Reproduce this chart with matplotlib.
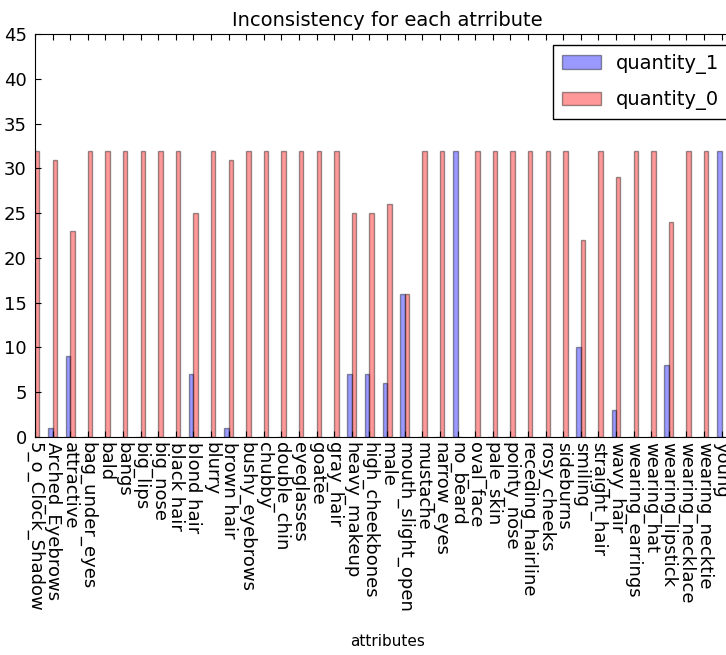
import numpy as np
import matplotlib
matplotlib.use('Agg')
import matplotlib.pyplot as plt

# %%
attributes = ['5_o_Clock_Shadow', 'Arched_Eyebrows', 'attractive', 'bag_under_eyes', 'bald',
              'bangs', 'big_lips', 'big_nose', 'black hair', 'blond hair', 'blurry', 'brown hair',
              'bushy_eyebrows', 'chubby', 'double_chin', 'eyeglasses', 'goatee', 'gray_hair',
              'heavy_makeup', 'high_cheekbones', 'male', 'mouth_slight_open', 'mustache',
              'narrow_eyes', 'no_beard', 'oval_face', 'pale_skin', 'pointy_nose',
              'receding_hairline', 'rosy_cheeks', 'sideburns', 'smiling', 'straight_hair',
              'wavy_hair', 'wearing_earrings', 'wearing_hat', 'wearing_lipstick',
              'wearing_necklace', 'wearing_necktie', 'young']
quantity_1 = [0, 1, 9, 0, 0, 0, 0, 0, 0, 7, 0, 1, 0, 0, 0, 0, 0, 0, 7, 7,
              6, 16, 0, 0, 32, 0, 0, 0, 0, 0, 0, 10, 0, 3, 0, 0, 8, 0, 0, 32]
quantity_0 = [32, 31, 23, 32, 32, 32, 32, 32, 32, 25, 32, 31, 32, 32, 32, 32, 32, 32, 25, 25,
              26, 16, 32, 32, 0, 32, 32, 32, 32, 32, 32, 22, 32, 29, 32, 32, 24, 32, 32, 0]

# %%
plt.rcParams['xtick.direction'] = 'in'
plt.rcParams['ytick.direction'] = 'in'
plt.rcParams['xtick.top'] = True
plt.rcParams['ytick.right'] = True

fig = plt.figure(figsize=(7.26, 6.55), dpi=100)
# the right edge of the axes runs a little past the picture, as in the original crop
ax = fig.add_axes([0.0482, 0.3328, 0.970, 0.615])

x = np.arange(len(attributes))
w = 0.25
ax.bar(x - w, quantity_1, w, align='edge', color='b', alpha=0.4,
       edgecolor='k', linewidth=1, label='quantity_1')
ax.bar(x, quantity_0, w, align='edge', color='r', alpha=0.4,
       edgecolor='k', linewidth=1, label='quantity_0')

ax.set_xlim(0, len(attributes))
ax.set_ylim(0, 45)
ax.set_yticks(np.arange(0, 46, 5))
ax.set_xticks(x)
ax.set_xticklabels(attributes, rotation=270, fontsize=13)
ax.tick_params(axis='y', labelsize=13, pad=6)
ax.tick_params(length=4)
ax.set_title('Inconsistency for each atrribute', fontsize=14)
ax.set_xlabel('attributes', fontsize=11)
ax.xaxis.set_label_coords(0.5, -0.49)

leg = ax.legend(loc='upper left', bbox_to_anchor=(553 / 726, 1 - 45 / 655),
                bbox_transform=fig.transFigure, borderaxespad=0,
                fontsize=14, fancybox=False, framealpha=1, edgecolor='k',
                handlelength=2, handletextpad=0.8, labelspacing=0.85,
                borderpad=0.45)

plt.savefig('out.png')
